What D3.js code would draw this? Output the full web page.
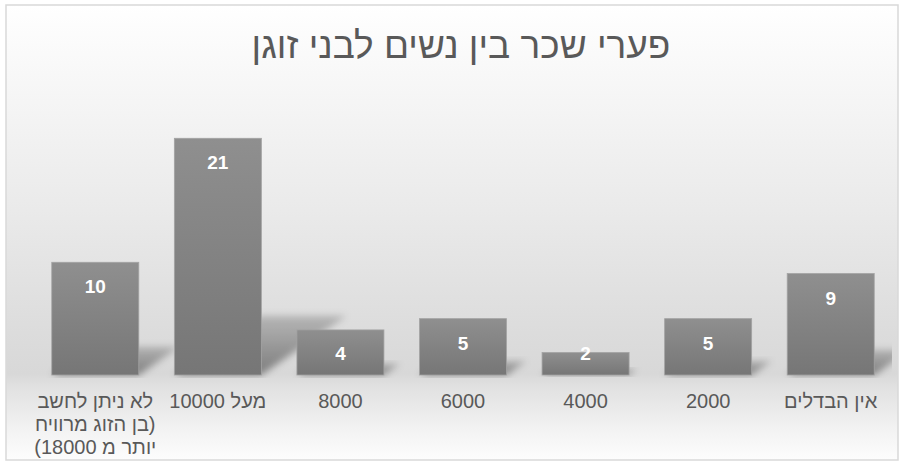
<!DOCTYPE html>
<html lang="he">
<head>
<meta charset="utf-8">
<script src="https://cdn.jsdelivr.net/npm/d3@7"></script>
<style>
  html, body { margin: 0; padding: 0; background: #ffffff; }
  svg { display: block; }
  text { font-family: "Liberation Sans", Arial, "DejaVu Sans", sans-serif; }
</style>
</head>
<body>
<svg id="chart" width="904" height="465"></svg>
<script>
// Salary gap between women and their partners (number of respondents)
const title = "פערי שכר בין נשים לבני זוגן";
const categories = [
  "לא ניתן לחשב (בן הזוג מרוויח יותר מ 18000)",
  "מעל 10000",
  "8000",
  "6000",
  "4000",
  "2000",
  "אין הבדלים"
];
// Wrapped lines of each axis label
const categoryLines = [
  ["לא ניתן לחשב", "(בן הזוג מרוויח", "יותר מ 18000)"],
  ["מעל 10000"],
  ["8000"],
  ["6000"],
  ["4000"],
  ["2000"],
  ["אין הבדלים"]
];
const values = [10, 21, 4, 5, 2, 5, 9];
const yMax = 25;

const W = 904, H = 465;
const plot = { left: 34, right: 892, top: 93.2, bottom: 375 };

const svg = d3.select("#chart");
const defs = svg.append("defs");

// Chart background: white at the top, grey around the floor, fading out below
const bg = defs.append("linearGradient")
  .attr("id", "bgGrad").attr("gradientUnits", "userSpaceOnUse")
  .attr("x1", 0).attr("y1", 5).attr("x2", 0).attr("y2", 460);
[[0, "#ffffff"], [0.15, "#f8f8f8"], [0.45, "#eaeaea"], [0.72, "#dcdcdc"],
 [0.81, "#d8d8d8"], [0.84, "#e1e1e1"], [0.93, "#f2f2f2"], [1, "#fdfdfd"]]
  .forEach(([o, c]) => bg.append("stop").attr("offset", o).attr("stop-color", c));

// Bar fill: slightly lighter at the top
const barGrad = defs.append("linearGradient")
  .attr("id", "barGrad").attr("x1", 0).attr("y1", 0).attr("x2", 0).attr("y2", 1);
barGrad.append("stop").attr("offset", 0).attr("stop-color", "#8f8f8f");
barGrad.append("stop").attr("offset", 1).attr("stop-color", "#767676");

// Perspective shadow fill, stronger near the floor
const shGrad = defs.append("linearGradient")
  .attr("id", "shGrad").attr("x1", 0).attr("y1", 0).attr("x2", 0).attr("y2", 1);
shGrad.append("stop").attr("offset", 0).attr("stop-color", "#000").attr("stop-opacity", 0.18);
shGrad.append("stop").attr("offset", 1).attr("stop-color", "#000").attr("stop-opacity", 0.42);

defs.append("filter").attr("id", "blur")
  .attr("x", "-20%").attr("y", "-30%").attr("width", "140%").attr("height", "160%")
  .append("feGaussianBlur").attr("stdDeviation", 3.5);

defs.append("clipPath").attr("id", "plotClip")
  .append("rect")
  .attr("x", plot.left).attr("y", plot.top)
  .attr("width", plot.right - plot.left).attr("height", plot.bottom - plot.top + 3);

// Chart frame
svg.append("rect")
  .attr("x", 6).attr("y", 5).attr("width", 892).attr("height", 455)
  .attr("fill", "url(#bgGrad)")
  .attr("stroke", "#d9d9d9").attr("stroke-width", 1.5);

// Title
svg.append("text")
  .attr("x", 461).attr("y", 58)
  .attr("text-anchor", "middle")
  .attr("direction", "rtl")
  .attr("font-size", 37)
  .attr("fill", "#595959")
  .text(title);

const x = d3.scaleBand()
  .domain(categories)
  .range([plot.left, plot.right])
  .paddingInner(0.29)
  .paddingOuter(0.145);

const y = d3.scaleLinear()
  .domain([0, yMax])
  .range([plot.bottom, plot.top]);

const data = categories.map((c, i) => ({ cat: c, value: values[i], lines: categoryLines[i] }));

// Shadows cast up and to the right of each bar
const skew = 0.36, squash = 0.25;
svg.append("g").attr("clip-path", "url(#plotClip)")
  .selectAll("path").data(data).join("path")
  .attr("d", d => {
    const x0 = x(d.cat), x1 = x0 + x.bandwidth();
    const base = y(0), h = y(0) - y(d.value);
    const dx = h * skew, top = base - h * squash;
    return `M${x0},${base}L${x1},${base}L${x1 + dx},${top}L${x0 + dx},${top}Z`;
  })
  .attr("fill", "url(#shGrad)")
  .attr("filter", "url(#blur)");

// Bars
svg.append("g")
  .selectAll("rect").data(data).join("rect")
  .attr("x", d => x(d.cat))
  .attr("y", d => y(d.value))
  .attr("width", x.bandwidth())
  .attr("height", d => y(0) - y(d.value))
  .attr("fill", "url(#barGrad)")
  .attr("stroke", "#a3a3a3")
  .attr("stroke-width", 0.8);

// Value labels, inside the top of each bar
svg.append("g")
  .selectAll("text").data(data).join("text")
  .attr("x", d => x(d.cat) + x.bandwidth() / 2)
  .attr("y", d => Math.min(y(d.value) + 31, y(0) - 15))
  .attr("text-anchor", "middle")
  .attr("font-size", 19)
  .attr("font-weight", "bold")
  .attr("fill", "#ffffff")
  .text(d => d.value);

// Category labels
const lab = svg.append("g")
  .selectAll("text").data(data).join("text")
  .attr("text-anchor", "middle")
  .attr("direction", "rtl")
  .attr("font-size", 20)
  .attr("fill", "#595959");
lab.selectAll("tspan").data(d => d.lines.map(l => ({ l, cx: x(d.cat) + x.bandwidth() / 2 })))
  .join("tspan")
  .attr("x", t => t.cx)
  .attr("y", (t, i) => 408 + i * 23)
  .text(t => t.l);
</script>
</body>
</html>
